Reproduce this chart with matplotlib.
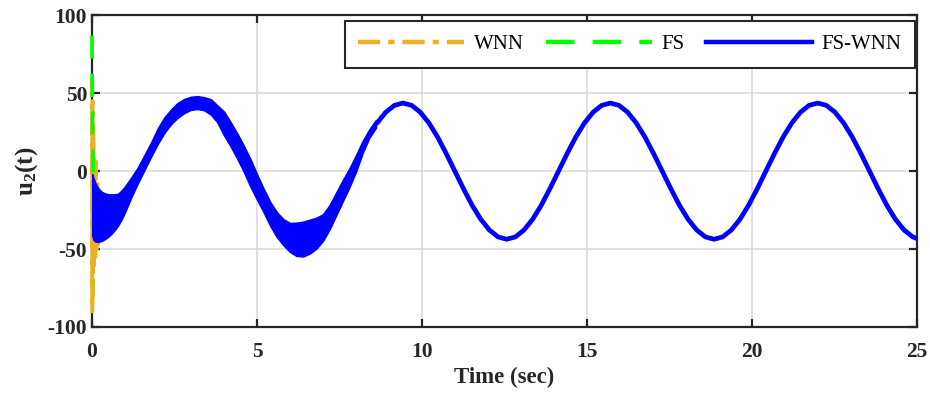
import matplotlib
matplotlib.use("Agg")
import matplotlib.pyplot as plt
from matplotlib.lines import Line2D

plt.rcParams["axes.unicode_minus"] = False
plt.rcParams["mathtext.fontset"] = "custom"
plt.rcParams["mathtext.bf"] = "Liberation Serif:bold"
plt.rcParams["mathtext.rm"] = "Liberation Serif:bold"

# ---------------- data ----------------
# WNN controller: start-up chattering before it settles on the reference
t_wnn = [0.0, 0.01, 0.02, 0.03, 0.04, 0.06, 0.08, 0.10, 0.12, 0.14, 0.16, 0.18,
         0.20, 0.22, 0.25, 0.30]
u_wnn = [60, -90, 45, -80, 30, -62, 7, -58, 6, -50, -8, -48, -12, -40, -20, -30]

# FS controller: large initial value, drops quickly
t_fs = [0.0, 0.01, 0.02, 0.04, 0.07, 0.10]
u_fs = [87, 50, 20, 0, -10, -20]

# FS-WNN controller: envelope of the high-frequency ripple during the transient
t_band = [0.0, 0.05, 0.1, 0.2, 0.3, 0.4, 0.5, 0.6, 0.7, 0.8, 0.9, 1.0, 1.2, 1.4,
          1.6, 1.8, 2.0, 2.2, 2.4, 2.6, 2.8, 3.0, 3.2, 3.4, 3.6, 3.8, 4.0, 4.2,
          4.4, 4.6, 4.8, 5.0, 5.2, 5.4, 5.6, 5.8, 6.0, 6.2, 6.4, 6.6, 6.8, 7.0,
          7.2, 7.4, 7.6, 7.8, 8.0, 8.2, 8.4, 8.6]
u_band_hi = [-2, -5, -8, -11.5, -13.5, -14.5, -15, -15, -15, -14.5, -12.5, -10, -4, 2.5,
             10.5, 18.5, 27.5, 34.5, 39.5, 43.7, 46.2, 47.6, 48, 47.3, 46, 42, 38, 31.2,
             24, 16, 7.5, -2.3, -11.5, -20, -26.5, -31, -33.4, -33.2, -32.5, -31.3, -30, -27.8,
             -22, -14, -6, 1.5, 10, 19, 26.5, 32.5]
u_band_lo = [-40, -44, -45, -45.3, -44.5, -43.3, -41.8, -39.7, -37.3, -34.3, -30.5, -26, -16, -7,
             1.5, 10, 18, 25, 30.5, 34.5, 37.5, 39.5, 40, 39.2, 36.5, 31.5, 23.3, 16.2,
             8.3, 0, -9.6, -18, -26, -34.8, -42, -47.3, -51.7, -54.3, -54.6, -52.7, -49.5, -44.5,
             -37, -28, -19, -10, 0, 12, 21.5, 28]

# FS-WNN controller after the ripple has died out
t_fswnn = [8.639, 8.901, 9.163, 9.425, 9.687, 9.948, 10.210, 10.472, 10.734, 10.996,
           11.257, 11.519, 11.781, 12.043, 12.305, 12.566, 12.828, 13.090, 13.352, 13.614,
           13.875, 14.137, 14.399, 14.661, 14.923, 15.184, 15.446, 15.708, 15.970, 16.232,
           16.493, 16.755, 17.017, 17.279, 17.541, 17.802, 18.064, 18.326, 18.588, 18.850,
           19.111, 19.373, 19.635, 19.897, 20.159, 20.420, 20.682, 20.944, 21.206, 21.468,
           21.729, 21.991, 22.253, 22.515, 22.777, 23.038, 23.300, 23.562, 23.824, 24.086,
           24.347, 24.609, 24.871, 25.0]
u_fswnn = [30.9, 37.8, 42.2, 43.7, 42.2, 37.8, 30.9, 21.9, 11.3, 0.0,
           -11.3, -21.9, -30.9, -37.8, -42.2, -43.7, -42.2, -37.8, -30.9, -21.9,
           -11.3, 0.0, 11.3, 21.9, 30.9, 37.8, 42.2, 43.7, 42.2, 37.8,
           30.9, 21.9, 11.3, 0.0, -11.3, -21.9, -30.9, -37.8, -42.2, -43.7,
           -42.2, -37.8, -30.9, -21.9, -11.3, 0.0, 11.3, 21.9, 30.9, 37.8,
           42.2, 43.7, 42.2, 37.8, 30.9, 21.9, 11.3, 0.0, -11.3, -21.9,
           -30.9, -37.8, -42.2, -43.3]

x_ticks = [0, 5, 10, 15, 20, 25]
y_ticks = [-100, -50, 0, 50, 100]
series_names = ["WNN", "FS", "FS-WNN"]

# ---------------- styles ----------------
c_wnn = "#EDB120"
c_fs = "#00FF00"
c_fswnn = "#0000FF"
dash_wnn = (0, (5, 1.8, 1.4, 1.8))
dash_fs = (0, (6.4, 4.1))
axis_col = "#262626"
serif = "Liberation Serif"

fig = plt.figure(figsize=(9.3, 3.98), dpi=100)
ax = fig.add_axes([92 / 930, 1 - 327 / 398, 825 / 930, 311.7 / 398])

ax.plot(t_wnn, u_wnn, color=c_wnn, lw=2.8, linestyle=dash_wnn, clip_on=False, zorder=3)
ax.plot(t_fs, u_fs, color=c_fs, lw=2.6, linestyle=dash_fs, clip_on=False, zorder=3.1)
ax.fill_between(t_band, u_band_lo, u_band_hi, facecolor=c_fswnn, edgecolor=c_fswnn,
                lw=1.4, zorder=3.2)
ax.plot(t_fswnn, u_fswnn, color=c_fswnn, lw=3.4, solid_capstyle="round", zorder=3.2)

ax.set_xlim(0, 25)
ax.set_ylim(-100, 100)
ax.set_xticks(x_ticks)
ax.set_yticks(y_ticks)
ax.set_xticklabels([str(v) for v in x_ticks])
ax.set_yticklabels([str(v) for v in y_ticks])

ax.grid(True, color="#D8D8D8", lw=1.1, zorder=0)
ax.set_axisbelow(True)

for sp in ax.spines.values():
    sp.set_color(axis_col)
    sp.set_linewidth(1.6)
    sp.set_zorder(2.5)

ax.tick_params(axis="both", which="both", direction="in", top=True, right=True,
               length=5.5, width=1.6, color=axis_col)
ax.tick_params(axis="x", pad=11)
ax.tick_params(axis="y", pad=3.5)
for lab in ax.get_xticklabels() + ax.get_yticklabels():
    lab.set_fontfamily(serif)
    lab.set_fontweight("bold")
    lab.set_fontsize(15.5)
    lab.set_color(axis_col)

ax.set_xlabel("Time (sec)", fontfamily=serif, fontweight="bold", fontsize=16.5,
              color=axis_col)
ax.xaxis.set_label_coords(0.5, -0.128)
ax.set_ylabel(r"$\mathbf{u_2(t)}$", fontsize=18, color=axis_col)
ax.yaxis.set_label_coords(-0.063, 0.5)

handles = [
    Line2D([], [], color=c_wnn, lw=3.2, linestyle=dash_wnn),
    Line2D([], [], color=c_fs, lw=3.2, linestyle=dash_fs),
    Line2D([], [], color=c_fswnn, lw=3.2),
]
leg = ax.legend(handles, series_names, loc="upper right", bbox_to_anchor=(0.998, 0.981),
                borderaxespad=0, ncol=3, prop={"family": serif, "size": 15},
                handlelength=5.1, handletextpad=0.45, columnspacing=1.05, borderpad=0.65,
                fancybox=False, framealpha=1, edgecolor=axis_col)
leg.get_frame().set_linewidth(1.5)
leg.set_zorder(5)

fig.savefig("out.png", dpi=100)
